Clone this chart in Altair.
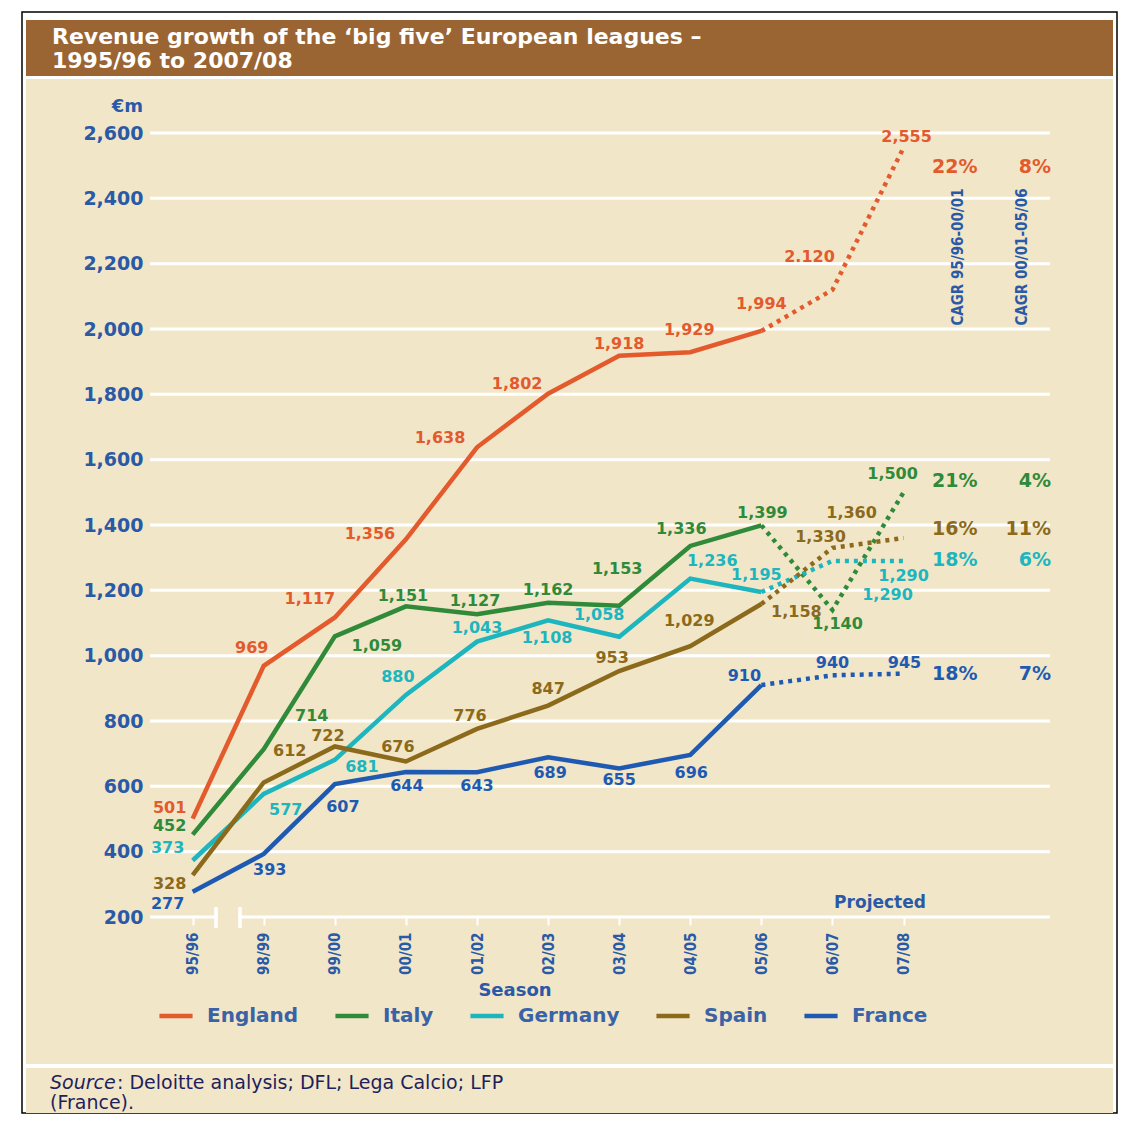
import altair as alt
import pandas as pd

# ---------------- data ----------------
seasons = ["95/96", "98/99", "99/00", "00/01", "01/02", "02/03", "03/04", "04/05", "05/06", "06/07", "07/08"]
countries = ["England", "Italy", "Germany", "Spain", "France"]
colors = ["#E35A2D", "#2F8A3A", "#1DB5BE", "#8C6A1B", "#1F5AB2"]

england = [501, 969, 1117, 1356, 1638, 1802, 1918, 1929, 1994, 2120, 2555]
italy = [452, 714, 1059, 1151, 1127, 1162, 1153, 1336, 1399, 1140, 1500]
germany = [373, 577, 681, 880, 1043, 1108, 1058, 1236, 1195, 1290, 1290]
spain = [328, 612, 722, 676, 776, 847, 953, 1029, 1158, 1330, 1360]
france = [277, 393, 607, 644, 643, 689, 655, 696, 910, 940, 945]

cagr_95_01 = ["22%", "21%", "18%", "16%", "18%"]
cagr_01_06 = ["8%", "4%", "6%", "11%", "7%"]

y_ticks = [200, 400, 600, 800, 1000, 1200, 1400, 1600, 1800, 2000, 2200, 2400, 2600]

# label placement (pixel offsets from each point to its label centre)
off_england = [(-23, -11), (-12, -18), (-25, -18), (-36, -5), (-37, -9), (-31, -10), (0, -12), (-1, -22), (0, -27), (-23, -33), (3, -11)]
off_italy = [(-23, -9), (48, -33), (42, 10), (-3, -10), (-2, -13), (0, -13), (-2, -37), (-9, -17), (1, -12), (5, 14), (-11, -18)]
off_germany = [(-25, -12), (22, 16), (27, 7), (-8, -18), (0, -14), (-1, 18), (-20, -22), (22, -18), (-5, -17), (55, 34), (0, 15)]
off_spain = [(-23, 9), (26, -31), (-7, -10), (-8, -15), (-7, -13), (0, -17), (-7, -13), (-1, -25), (35, 8), (-12, -11), (-52, -25)]
off_france = [(-25, 12), (6, 16), (8, 23), (1, 14), (0, 14), (2, 16), (0, 12), (1, 18), (-17, -9), (0, -12), (1, -11)]
# pixel rows of the CAGR figures
cagr_rows = [34, 348, 427, 396, 541]

# ---------------- geometry ----------------
W, H = 900, 784
X_DOM = [-0.6, 12.06]
Y_DOM = [200, 2600]
STEP = W / (X_DOM[1] - X_DOM[0])
PPU = H / (Y_DOM[1] - Y_DOM[0])

BLUE = "#2A5AA6"
LEG_BLUE = "#3A62A6"
CREAM = "#F2E6C9"
BROWN = "#9A6533"
NUM_FONT = "DejaVu Sans"
NARROW = "Liberation Sans Narrow, DejaVu Sans Condensed, Arial Narrow, sans-serif"

series = dict(zip(countries, [england, italy, germany, spain, france]))
offsets = dict(zip(countries, [off_england, off_italy, off_germany, off_spain, off_france]))
colmap = dict(zip(countries, colors))

rows = []
for c in countries:
    for i, v in enumerate(series[c]):
        dx, dy = offsets[c][i]
        lab = f"{v:,}"
        if c == "England" and i == 9:
            lab = "2.120"
        rows.append(dict(country=c, i=i, season=seasons[i], value=v, col=colmap[c],
                         label=lab, lx=i + dx / STEP, ly=v - dy / PPU))
df = pd.DataFrame(rows)
solid = df[df.i <= 8]
dotted = df[df.i >= 8]

cagr_df = pd.DataFrame(dict(country=countries, a=cagr_95_01, b=cagr_01_06, py=cagr_rows, col=colors))
grid_df = pd.DataFrame(dict(v=y_ticks))
one = pd.DataFrame({"k": [0]})

xs = alt.Scale(domain=X_DOM, nice=False, zero=False)
ys = alt.Scale(domain=Y_DOM, nice=False, zero=False)


def rect(x1, x2, y1, y2, **kw):
    return alt.Chart(one).mark_rect(**kw).encode(
        x=alt.value(x1), x2=alt.value(x2), y=alt.value(y1), y2=alt.value(y2))


def txt(s, x, y, **kw):
    return alt.Chart(one).mark_text(text=s, **kw).encode(x=alt.value(x), y=alt.value(y))


label_expr = "[" + ",".join(f"'{s}'" for s in seasons) + "][datum.value]"

x_axis = alt.Axis(values=list(range(len(seasons))), labelExpr=label_expr, labelAngle=-90,
                  labelFont=NARROW, labelFontSize=15, labelFontWeight="bold", labelColor=BLUE,
                  labelPadding=7, domain=False, grid=False, ticks=True, tickColor="white",
                  tickSize=8, tickWidth=2, title=None, zindex=1)
y_axis = alt.Axis(values=y_ticks, format=",d", labelFont=NUM_FONT, labelFontSize=19,
                  labelFontWeight="bold", labelColor=BLUE, labelPadding=7, domain=False,
                  grid=False, ticks=False, title=None, zindex=1)

# page coordinates -> plot coordinates: origin at (150, 133)
frame = rect(-128, 967, -121, 980, fill="white", stroke="black", strokeWidth=1.5)
title_bar = rect(-124, 963, -113, -57, fill=BROWN)
main_panel = rect(-124, 963, -54, 931, fill=CREAM)
source_panel = rect(-124, 963, 935, 980, fill=CREAM)

grid = alt.Chart(grid_df).mark_rule(color="white", strokeWidth=3).encode(
    y=alt.Y("v:Q", scale=ys, axis=y_axis), x=alt.value(0), x2=alt.value(W))

brk_gap = rect(68, 88, 779, 789, fill=CREAM)
brk1 = alt.Chart(one).mark_rule(color="white", strokeWidth=3.5).encode(
    x=alt.value(66), y=alt.value(774), y2=alt.value(795))
brk2 = alt.Chart(one).mark_rule(color="white", strokeWidth=3.5).encode(
    x=alt.value(90), y=alt.value(774), y2=alt.value(795))

lines = alt.Chart(solid).mark_line(strokeWidth=4.5, strokeJoin="miter").encode(
    x=alt.X("i:Q", scale=xs, axis=x_axis),
    y=alt.Y("value:Q", scale=ys, axis=y_axis),
    color=alt.Color("country:N", scale=alt.Scale(domain=countries, range=colors),
                    sort=countries,
                    legend=alt.Legend(orient="none", legendX=7, legendY=864, direction="horizontal",
                                      title=None, symbolType="stroke", symbolStrokeWidth=4.5,
                                      symbolSize=1100, labelFont=NUM_FONT, labelFontSize=20,
                                      labelFontWeight="bold", labelColor=LEG_BLUE, columnPadding=27,
                                      labelOffset=12, padding=0)),
    detail="country:N",
)

proj = alt.Chart(dotted).mark_line(strokeWidth=4.5, strokeDash=[4, 5]).encode(
    x=alt.X("i:Q", scale=xs),
    y=alt.Y("value:Q", scale=ys),
    color=alt.Color("col:N", scale=None),
    detail="country:N",
)

labels = alt.Chart(df).mark_text(font=NUM_FONT, fontSize=16, fontWeight="bold",
                                 align="center", baseline="middle").encode(
    x=alt.X("lx:Q", scale=xs), y=alt.Y("ly:Q", scale=ys),
    text="label:N", color=alt.Color("col:N", scale=None))

cagr_a = alt.Chart(cagr_df).mark_text(font=NUM_FONT, fontSize=19, fontWeight="bold",
                                      align="left", baseline="middle").encode(
    x=alt.value(782), y=alt.Y("py:Q", scale=None), text="a:N", color=alt.Color("col:N", scale=None))
cagr_b = alt.Chart(cagr_df).mark_text(font=NUM_FONT, fontSize=19, fontWeight="bold",
                                      align="right", baseline="middle").encode(
    x=alt.value(901), y=alt.Y("py:Q", scale=None), text="b:N", color=alt.Color("col:N", scale=None))

cagr_t1 = txt("CAGR 95/96-00/01", 808, 124, angle=270, font=NARROW, fontSize=15,
              fontWeight="bold", color=BLUE, align="center", baseline="middle")
cagr_t2 = txt("CAGR 00/01-05/06", 872, 124, angle=270, font=NARROW, fontSize=15,
              fontWeight="bold", color=BLUE, align="center", baseline="middle")

title1 = txt("Revenue growth of the \u2018big five\u2019 European leagues \u2013", -98, -96,
             font="DejaVu Sans", fontSize=22, fontWeight="bold", color="white",
             align="left", baseline="middle")
title2 = txt("1995/96 to 2007/08", -98, -72, font="DejaVu Sans", fontSize=22,
             fontWeight="bold", color="white", align="left", baseline="middle")
unit = txt("\u20acm", -7, -26, font=NUM_FONT, fontSize=18, fontWeight="bold", color=BLUE,
           align="right", baseline="middle")
projected = txt("Projected", 730, 770, font=NUM_FONT, fontSize=17, fontWeight="bold",
                color=BLUE, align="center", baseline="middle")
season_t = txt("Season", 365, 858, font=NUM_FONT, fontSize=18, fontWeight="bold",
               color=BLUE, align="center", baseline="middle")
src1 = txt("Source", -100, 950, font="DejaVu Sans", fontSize=19, fontStyle="italic",
           color="#1E1F5C", align="left", baseline="middle")
src2 = txt(": Deloitte analysis; DFL; Lega Calcio; LFP", -33, 950, font="DejaVu Sans",
           fontSize=19, color="#1E1F5C", align="left", baseline="middle")
src3 = txt("(France).", -100, 970, font="DejaVu Sans", fontSize=19, color="#1E1F5C",
           align="left", baseline="middle")

chart = alt.layer(
    frame, title_bar, main_panel, source_panel, grid, brk_gap, brk1, brk2,
    lines, proj, labels, cagr_a, cagr_b, cagr_t1, cagr_t2,
    title1, title2, unit, projected, season_t, src1, src2, src3,
).properties(
    width=W, height=H, autosize="none",
    padding={"left": 142, "top": 125, "right": 69, "bottom": 199},
    background="white",
).configure_view(stroke=None, fill=None)

chart.save("out.html", embed_options={"renderer": "svg", "actions": False})
